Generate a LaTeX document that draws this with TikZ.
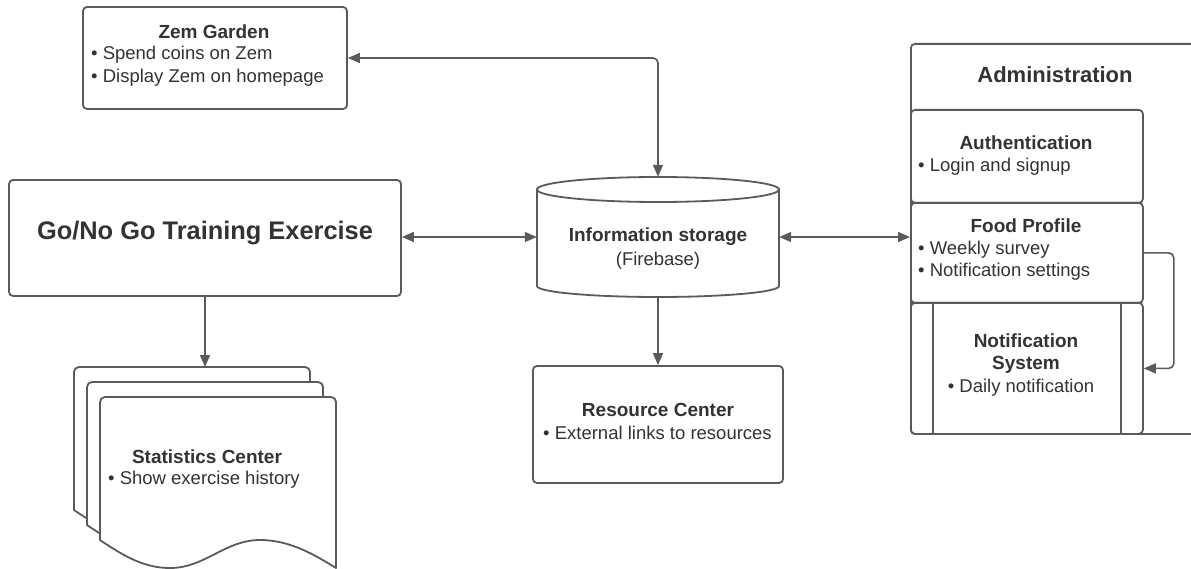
\documentclass[tikz,border=0pt]{standalone}
\usepackage{fontspec}
\setmainfont{Liberation Sans}
\usetikzlibrary{arrows.meta,calc}
\definecolor{lc}{HTML}{5A5A5A}
\definecolor{tc}{HTML}{333333}
\tikzset{
  box/.style={draw=lc, line width=1.8pt, rounded corners=4pt, fill=white, inner sep=0pt},
  conn/.style={draw=lc, line width=1.6pt, rounded corners=5pt},
  hd/.style={font=\bfseries\fontsize{19}{22}\selectfont, text=tc, inner sep=0pt},
  tx/.style={font=\fontsize{18.5}{22.5}\selectfont, text=tc, inner sep=0pt},
  sheet/.style={draw=lc, line width=1.8pt, fill=white, line join=round},
}
\newcommand{\docsheet}[2]{%
  \draw[sheet] (#1,#2+143) -- (#1,#2+5) arc[start angle=180,end angle=270,radius=5] -- (#1+231,#2)
    arc[start angle=270,end angle=360,radius=5] -- (#1+236,#2+171)
    .. controls (#1+215,#2+158) and (#1+190,#2+143) .. (#1+160,#2+143)
    .. controls (#1+125,#2+143) and (#1+105,#2+171) .. (#1+70,#2+171)
    .. controls (#1+45,#2+171) and (#1+25,#2+160) .. cycle;}
\begin{document}
\begin{tikzpicture}[x=1pt,y=-1pt,>={Triangle[length=12pt,width=10pt]}]
\clip (0,0) rectangle (1191,569);
\fill[white] (0,0) rectangle (1191,569);

% Zem Garden
\node[box, minimum width=264, minimum height=102] (zem) at (215,58) {};
\node[hd] (zemh) at (214,32) {Zem Garden};
\node[tx, anchor=west] (zem1) at (91,55) {• Spend coins on Zem};
\node[tx, anchor=west] (zem2) at (91,78) {• Display Zem on homepage};

% Go/No Go
\node[box, minimum width=392, minimum height=116] (go) at (205,238) {};
\node[font=\bfseries\fontsize{25.4}{30}\selectfont, text=tc, inner sep=0pt] (goh) at (205,233) {Go/No Go Training Exercise};

% Information storage cylinder
\node[minimum width=242, minimum height=120, inner sep=0pt] (db) at (658,237) {};
\draw[draw=lc, line width=1.8pt, fill=white] (537,189.5) -- (537,286)
  arc[start angle=180, end angle=0, x radius=121, y radius=11] -- (779,189.5) -- cycle;
\draw[draw=lc, line width=1.8pt, fill=white] (658,189.5) ellipse[x radius=121, y radius=12.5];
\node[hd] (dbh) at (658,237) {Information storage};
\node[tx] (dbt) at (658,261) {(Firebase)};

% Resource Center
\node[box, minimum width=250, minimum height=117] (res) at (658,424.5) {};
\node[hd] (resh) at (658,410) {Resource Center};
\node[tx, anchor=west] (res1) at (543,433) {• External links to resources};

% Statistics Center (document stack)
\coordinate (st1) at (192,367);
\docsheet{74}{367}
\docsheet{87}{382}
\docsheet{100}{397}
\node[hd] (sth) at (207,457) {Statistics Center};
\node[tx, anchor=west] (st2) at (108,480) {• Show exercise history};

% Administration
\node[box, minimum width=300, minimum height=390, anchor=north west] (admin) at (910,43) {};
\node[font=\bfseries\fontsize{22}{26}\selectfont, text=tc, inner sep=0pt] (adminh) at (1055,75) {Administration};
\node[box, minimum width=232, minimum height=93, anchor=north west] (auth) at (910,109) {};
\node[hd] (authh) at (1026,143) {Authentication};
\node[tx, anchor=west] (auth1) at (918,167) {• Login and signup};
\node[box, minimum width=232, minimum height=100, anchor=north west] (food) at (910,202) {};
\node[hd] (foodh) at (1026,226) {Food Profile};
\node[tx, anchor=west] (food1) at (918,250) {• Weekly survey};
\node[tx, anchor=west] (food2) at (918,272) {• Notification settings};
\node[box, minimum width=232, minimum height=131, anchor=north west] (notif) at (910,302) {};
\draw[draw=lc, line width=1.8pt] ($(notif.north west)+(23,0)$) -- ($(notif.south west)+(23,0)$);
\draw[draw=lc, line width=1.8pt] ($(notif.north east)+(-23,0)$) -- ($(notif.south east)+(-23,0)$);
\node[hd, align=center] (notifh) at (1026,354) {Notification\\System};
\node[tx] (notif1) at (1021,388) {• Daily notification};

% Connectors
\draw[conn, <->] (zem.east) -| (db.north);
\draw[conn, <->] (go.east |- db.west) -- (db.west);
\draw[conn, <->] (db.east) -- (db.east -| food.west);
\draw[conn, ->] (db.south) -- (res.north);
\draw[conn, ->] (go.south) -- (go.south |- st1);
\draw[conn, ->] (food.east) -- ++(30,0) |- (notif.east);
\end{tikzpicture}
\end{document}
